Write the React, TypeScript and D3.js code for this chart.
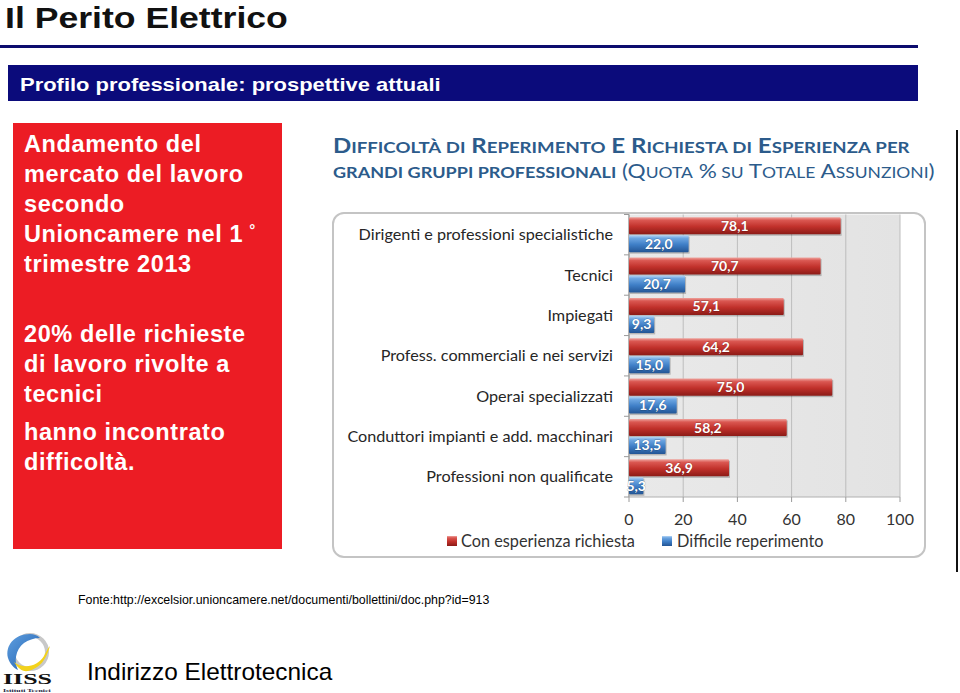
import React, { useLayoutEffect, useRef } from "react";
import * as d3 from "d3";

const categories = [
  "Dirigenti e professioni specialistiche",
  "Tecnici",
  "Impiegati",
  "Profess. commerciali e nei servizi",
  "Operai specializzati",
  "Conduttori impianti e add. macchinari",
  "Professioni non qualificate",
];
const conEsperienza = [78.1, 70.7, 57.1, 64.2, 75.0, 58.2, 36.9];
const difficileReperimento = [22.0, 20.7, 9.3, 15.0, 17.6, 13.5, 5.3];
const seriesNames = ["Con esperienza richiesta", "Difficile reperimento"];
const xTicks = [0, 20, 40, 60, 80, 100];

const leftLines1 = [
  "Andamento del",
  "mercato del lavoro",
  "secondo",
  "Unioncamere nel 1",
  "trimestre 2013",
];
const leftLines2 = ["20% delle richieste", "di lavoro rivolte a", "tecnici"];
const leftLines3 = ["hanno incontrato", "difficoltà."];

const itLocale = d3.formatLocale({ decimal: ",", thousands: ".", grouping: [3], currency: ["€", ""] });
const fmt = itLocale.format(".1f");

function FitText({ x, y, width, children, ...rest }: any) {
  const ref = useRef<SVGTextElement>(null);
  useLayoutEffect(() => {
    const el = ref.current;
    if (!el) return;
    el.removeAttribute("transform");
    const w = el.getBBox().width;
    if (w > 0) {
      const s = width / w;
      el.setAttribute("transform", `translate(${x},0) scale(${s},1) translate(${-x},0)`);
    }
  });
  return (
    <text ref={ref} x={x} y={y} {...rest}>
      {children}
    </text>
  );
}

function smallCaps(words: string[], big: number, small: number, bigFirst: boolean[]) {
  const out: any[] = [];
  words.forEach((w, i) => {
    const pre = i > 0 ? " " : "";
    if (bigFirst[i]) {
      out.push(
        <tspan key={i + "a"} fontSize={big}>
          {pre + w[0].toUpperCase()}
        </tspan>
      );
      if (w.length > 1)
        out.push(
          <tspan key={i + "b"} fontSize={small}>
            {w.slice(1).toUpperCase()}
          </tspan>
        );
    } else {
      out.push(
        <tspan key={i + "a"} fontSize={small}>
          {pre + w.toUpperCase()}
        </tspan>
      );
    }
  });
  return out;
}

export default function App() {
  const W = 960,
    H = 693;
  const x = d3.scaleLinear().domain([0, 100]).range([629, 900]);
  const y = d3.scaleBand<string>().domain(categories).range([214.5, 497]);
  const inner = d3
    .scaleBand<string>()
    .domain(seriesNames)
    .range([0, y.bandwidth()])
    .paddingInner(0.05)
    .paddingOuter(0.15);

  const series = [
    { name: seriesNames[0], values: conEsperienza, grad: "gRed" },
    { name: seriesNames[1], values: difficileReperimento, grad: "gBlue" },
  ];

  const titleColor = "#2c5b8b";
  const catFont = "Lato, 'Open Sans', sans-serif";

  return (
    <div style={{ position: "absolute", left: 0, top: 0, width: W, height: H }}>
      <svg width={W} height={H} viewBox={`0 0 ${W} ${H}`} style={{ display: "block" }}>
        <defs>
          <linearGradient id="gRed" x1="0" y1="0" x2="0" y2="1">
            <stop offset="0" stopColor="#eea39d" />
            <stop offset="0.18" stopColor="#da5751" />
            <stop offset="0.55" stopColor="#c1312b" />
            <stop offset="1" stopColor="#8c1b17" />
          </linearGradient>
          <linearGradient id="gBlue" x1="0" y1="0" x2="0" y2="1">
            <stop offset="0" stopColor="#b5d6f6" />
            <stop offset="0.18" stopColor="#6da6e2" />
            <stop offset="0.55" stopColor="#3f7fc7" />
            <stop offset="1" stopColor="#235595" />
          </linearGradient>
          <linearGradient id="gPlot" x1="0" y1="0" x2="1" y2="0">
            <stop offset="0" stopColor="#e9e9e9" />
            <stop offset="1" stopColor="#e3e3e3" />
          </linearGradient>
          <linearGradient id="gBlueLogo" x1="0" y1="0" x2="1" y2="1">
            <stop offset="0" stopColor="#5f9fe0" />
            <stop offset="1" stopColor="#1f5fae" />
          </linearGradient>
        </defs>

        {/* header */}
        <FitText x={5} y={28} width={283} fontFamily="'Liberation Sans', Arial, sans-serif" fontWeight={700} fontSize={30} fill="#111">
          Il Perito Elettrico
        </FitText>
        <rect x={0} y={45} width={918} height={3} fill="#0c0c6e" />
        <rect x={8} y={65} width={910} height={36} fill="#0b0b7b" />
        <FitText x={20} y={91} width={421} fontFamily="'Liberation Sans', Arial, sans-serif" fontWeight={700} fontSize={19} fill="#fff">
          Profilo professionale: prospettive attuali
        </FitText>

        {/* left red box */}
        <rect x={13} y={123} width={269} height={426} fill="#ec1c24" />
        <g fontFamily="'Liberation Sans', Arial, Helvetica, sans-serif" fontWeight={700} fontSize={23.5} fill="#fff" letterSpacing={0.6}>
          {leftLines1.map((t, i) => (
            <text key={t} x={24} y={152 + i * 30}>
              {t}
              {i === 3 ? (
                <tspan dx={6} dy={-7} fontSize={15}>
                  °
                </tspan>
              ) : null}
            </text>
          ))}
          {leftLines2.map((t, i) => (
            <text key={t} x={24} y={342 + i * 30}>
              {t}
            </text>
          ))}
          {leftLines3.map((t, i) => (
            <text key={t} x={24} y={440 + i * 30}>
              {t}
            </text>
          ))}
        </g>

        {/* chart title */}
        <FitText x={333} y={153} width={575} fontFamily={catFont} fontWeight={700} fill={titleColor}>
          {smallCaps(
            ["Difficoltà", "di", "reperimento", "e", "richiesta", "di", "esperienza", "per"],
            20,
            15.5,
            [true, false, true, true, true, false, true, false]
          )}
        </FitText>
        <FitText x={333} y={178} width={602} fontFamily={catFont} fill={titleColor}>
          <tspan fontWeight={700} fontSize={16}>
            GRANDI GRUPPI PROFESSIONALI
          </tspan>
          <tspan fontSize={20}>{"  (Q"}</tspan>
          <tspan fontSize={15.5}>UOTA</tspan>
          <tspan fontSize={20}> %</tspan>
          <tspan fontSize={15.5}> SU</tspan>
          <tspan fontSize={20}> T</tspan>
          <tspan fontSize={15.5}>OTALE</tspan>
          <tspan fontSize={20}> A</tspan>
          <tspan fontSize={15.5}>SSUNZIONI</tspan>
          <tspan fontSize={20}>)</tspan>
        </FitText>

        {/* chart frame */}
        <rect x={333} y={213} width={592} height={344} rx={11} ry={11} fill="#fff" stroke="#c4c4c4" strokeWidth={2} />

        {/* plot area */}
        <rect x={x(0)} y={214.5} width={x(100) - x(0)} height={497 - 214.5} fill="url(#gPlot)" />
        {xTicks.map((t) => (
          <line key={"g" + t} x1={x(t)} x2={x(t)} y1={214.5} y2={497} stroke="#bdbdbd" strokeWidth={1} />
        ))}
        {/* axes */}
        <line x1={x(0)} x2={x(0)} y1={214.5} y2={497} stroke="#9a9a9a" strokeWidth={1.2} />
        <line x1={x(0)} x2={x(100)} y1={497} y2={497} stroke="#b0b0b0" strokeWidth={1} />
        {categories.map((c) => (
          <line key={"yt" + c} x1={x(0) - 5} x2={x(0)} y1={(y(c) as number)} y2={(y(c) as number)} stroke="#9a9a9a" />
        ))}
        <line x1={x(0) - 5} x2={x(0)} y1={497} y2={497} stroke="#9a9a9a" />
        {xTicks.map((t) => (
          <line key={"xt" + t} x1={x(t)} x2={x(t)} y1={497} y2={502} stroke="#9a9a9a" />
        ))}

        {/* bars */}
        {series.map((s) =>
          categories.map((c, i) => {
            const by = (y(c) as number) + (inner(s.name) as number);
            const bh = inner.bandwidth();
            const bw = x(s.values[i]) - x(0);
            return (
              <g key={s.name + c}>
                <rect x={x(0) + 1} y={by + 1.5} width={bw} height={bh} fill="rgba(0,0,0,0.22)" />
                <rect x={x(0)} y={by} width={bw} height={bh} rx={1} fill={`url(#${s.grad})`} />
                <text
                  x={x(0) + bw / 2}
                  y={by + bh / 2}
                  dy="0.36em"
                  textAnchor="middle"
                  fontFamily={catFont}
                  fontWeight={700}
                  fontSize={14}
                  fill="#fff"
                  stroke="rgba(0,0,0,0.3)"
                  strokeWidth={0.8}
                  paintOrder="stroke"
                >
                  {fmt(s.values[i])}
                </text>
              </g>
            );
          })
        )}

        {/* category labels */}
        {categories.map((c) => (
          <text
            key={"cl" + c}
            x={613}
            y={(y(c) as number) + y.bandwidth() / 2}
            dy="0.35em"
            textAnchor="end"
            fontFamily={catFont}
            fontSize={16.2}
            fill="#262626"
          >
            {c}
          </text>
        ))}

        {/* x tick labels */}
        {xTicks.map((t) => (
          <text key={"xl" + t} x={x(t)} y={525} textAnchor="middle" fontFamily={catFont} fontSize={16} fill="#333">
            {t}
          </text>
        ))}

        {/* legend */}
        <rect x={447} y={536} width={10} height={10} fill="url(#gRed)" />
        <text x={461} y={547} fontFamily={catFont} fontSize={16.3} fill="#333">
          {seriesNames[0]}
        </text>
        <rect x={662} y={536} width={10} height={10} fill="url(#gBlue)" />
        <text x={677} y={547} fontFamily={catFont} fontSize={16.3} fill="#333">
          {seriesNames[1]}
        </text>

        {/* right border line */}
        <rect x={956} y={130} width={2} height={442} fill="#111" />

        {/* source */}
        <FitText x={78} y={604} width={412} fontFamily="'Liberation Sans', Arial, sans-serif" fontSize={12} fill="#000">
          Fonte:http://excelsior.unioncamere.net/documenti/bollettini/doc.php?id=913
        </FitText>

        {/* logo */}
        <g>
          <circle cx={30} cy={652} r={17} fill="none" stroke="#c8c8c8" strokeWidth={4} />
          <path d="M30,634 C14,634 5,646 8,658 C10,664 14,668 18,670 C14,662 15,650 24,643 C28,640 34,638 40,638 C37,635 34,634 30,634 Z" fill="url(#gBlueLogo)" />
          <path d="M14,662 C24,670 38,666 44,656 C46,652 48,648 50,646 C46,660 40,668 28,671 C22,672 18,668 14,662 Z" fill="#f3d21b" />
          <FitText x={3} y={684} width={49} fontFamily="'Liberation Serif', 'DejaVu Serif', serif" fontWeight={700} fontSize={15} fill="#111">
            IISS
          </FitText>
          <FitText x={3} y={692.5} width={49} fontFamily="'Liberation Serif', serif" fontWeight={700} fontSize={4.5} fill="#1a1a3a">
            Istituti Tecnici
          </FitText>
        </g>

        <FitText x={87} y={680} width={246} fontFamily="'Liberation Sans', Arial, sans-serif" fontSize={24} fill="#000">
          Indirizzo Elettrotecnica
        </FitText>
      </svg>
    </div>
  );
}
